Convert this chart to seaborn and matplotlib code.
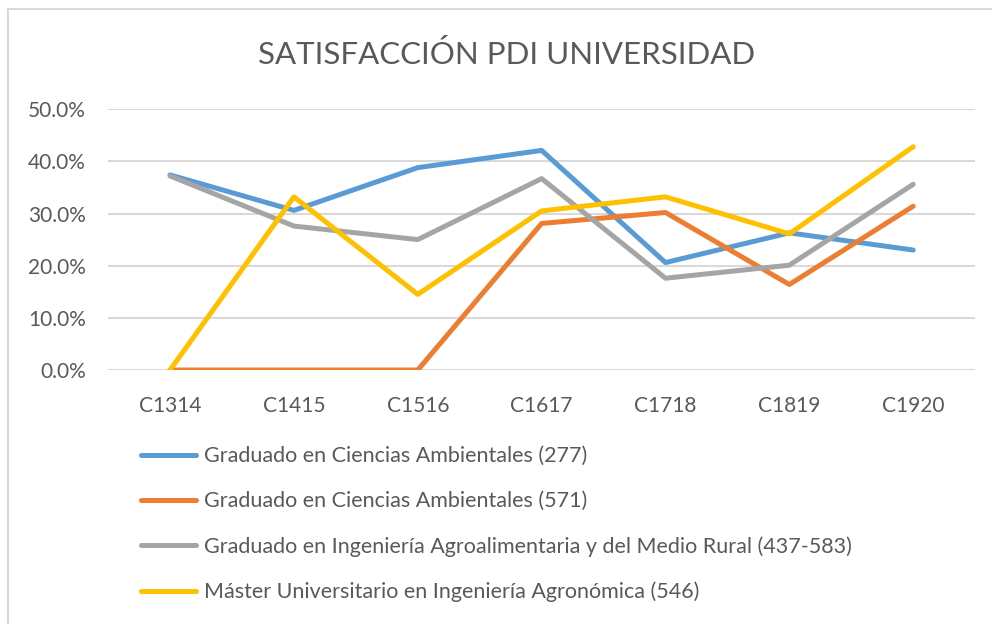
import matplotlib
matplotlib.use("Agg")
import matplotlib.pyplot as plt
import seaborn as sns
import pandas as pd
from matplotlib.patches import Rectangle
from matplotlib.ticker import PercentFormatter

# data (fractions)
cursos = ["C1314", "C1415", "C1516", "C1617", "C1718", "C1819", "C1920"]
series_names = [
    "Graduado en Ciencias Ambientales (277)",
    "Graduado en Ciencias Ambientales (571)",
    "Graduado en Ingeniería Agroalimentaria y del Medio Rural (437-583)",
    "Máster Universitario en Ingeniería Agronómica (546)",
]
ccaa_277 = [0.374, 0.306, 0.388, 0.421, 0.206, 0.263, 0.230]
ccaa_571 = [0.0, 0.0, 0.0, 0.281, 0.302, 0.164, 0.314]
agro_437 = [0.372, 0.276, 0.250, 0.367, 0.176, 0.201, 0.356]
master_546 = [0.0, 0.332, 0.145, 0.305, 0.332, 0.261, 0.428]
colors = ["#5B9BD5", "#ED7D31", "#A5A5A5", "#FFC000"]

rows = []
for name, vals in zip(series_names, [ccaa_277, ccaa_571, agro_437, master_546]):
    for c, v in zip(cursos, vals):
        rows.append({"curso": c, "programa": name, "valor": v})
df = pd.DataFrame(rows)

sns.set_style("white")
plt.rcParams["font.family"] = ["Lato", "DejaVu Sans"]
text_color = "#595959"

fig = plt.figure(figsize=(9.92, 6.24), dpi=100)
ax = fig.add_axes([0.109, 0.407, 0.874, 0.418])

sns.lineplot(data=df, x="curso", y="valor", hue="programa", hue_order=series_names,
             palette=colors, linewidth=3.6, sort=False, ax=ax, legend=False)
for line in ax.lines:
    line.set_solid_capstyle("round")
    line.set_solid_joinstyle("round")

ax.set_xlim(-0.5, 6.5)
ax.set_ylim(0, 0.5)
ax.set_yticks([0, 0.1, 0.2, 0.3, 0.4, 0.5])
ax.yaxis.set_major_formatter(PercentFormatter(1.0, decimals=1))
ax.grid(axis="y", color="#D9D9D9", linewidth=1.5)
ax.set_axisbelow(True)
for s in ax.spines.values():
    s.set_visible(False)
ax.tick_params(axis="y", length=0, pad=16, labelsize=15, labelcolor=text_color)
ax.tick_params(axis="x", length=0, pad=19, labelsize=15, labelcolor=text_color)
ax.set_xlabel("")
ax.set_ylabel("")

fig.text(0.511, 0.912, "SATISFACCIÓN PDI UNIVERSIDAD", ha="center", va="center",
         fontsize=22.5, color=text_color)

handles = [plt.Line2D([], [], color=c, linewidth=3.6, solid_capstyle="round") for c in colors]
fig.legend(handles, series_names, loc="upper left", bbox_to_anchor=(0.142, 0.285),
           frameon=False, fontsize=15.5, labelcolor=text_color, handlelength=2.56,
           handletextpad=0.37, labelspacing=1.16, borderaxespad=0, borderpad=0)

# outer chart border, cut off at right and bottom like the reference
fig.add_artist(Rectangle((8 / 992, -0.1), 1.2, 1.1 - 9 / 624, transform=fig.transFigure,
                         fill=False, edgecolor="#D9D9D9", linewidth=1.5))

fig.savefig("out.png", dpi=100, facecolor="white")
